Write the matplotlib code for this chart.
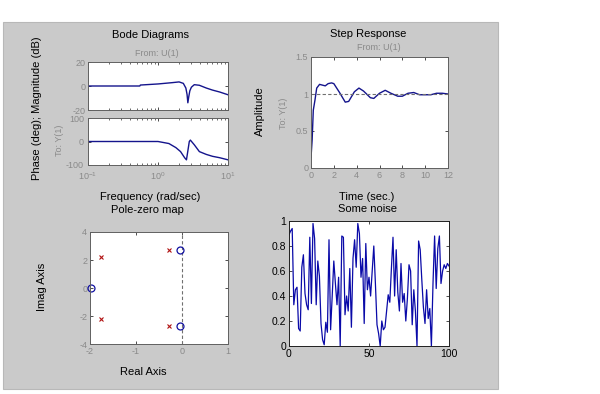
import numpy as np
import matplotlib
matplotlib.use('Agg')
import matplotlib.pyplot as plt
import matplotlib.ticker as ticker
from matplotlib.patches import Rectangle

plt.rcParams['font.family'] = ['Liberation Sans', 'DejaVu Sans']
plt.rcParams['axes.unicode_minus'] = False

# bode data
freq = [0.1, 0.3, 0.55, 0.56, 1.0, 1.6, 2.0, 2.3, 2.5, 2.6, 2.67, 2.75, 2.85, 3.0, 3.3, 3.9, 4.9, 6.0, 7.6, 10.0]
mag_db = [0, 0, 0, 0.8, 1.7, 2.8, 3.4, 2.2, -1.7, -7, -14, -9, -4, -1, 1.1, 0.6, -1.7, -3.4, -5, -7.3]
phase_freq = [0.1, 0.5, 1.0, 1.43, 1.8, 2.1, 2.4, 2.55, 2.67, 2.8, 2.9, 3.3, 3.9, 4.9, 6.0, 7.6, 10.0]
phase_deg = [0, 0, 0, -8.6, -26, -43, -69, -78, -40, 0, 6, -14, -43, -55, -63, -69, -78]

# step response
step_t = [0, 0.1, 0.2, 0.35, 0.5, 0.75, 1.0, 1.25, 1.5, 1.8, 2.0, 2.5, 3.0, 3.3, 3.8, 4.2, 4.6,
          5.2, 5.5, 6.0, 6.5, 7.0, 7.6, 8.0, 8.5, 9.0, 9.5, 10.0, 10.5, 11.0, 11.5, 12.0]
step_y = [0.14, 0.38, 0.78, 0.92, 1.08, 1.13, 1.12, 1.11, 1.14, 1.15, 1.14, 1.02, 0.89, 0.90, 1.03,
          1.08, 1.04, 0.95, 0.94, 1.01, 1.05, 1.01, 0.97, 0.97, 1.01, 1.02, 0.99, 0.99, 0.99, 1.01, 1.01, 1.00]

# pole-zero map
zeros_re = [-1.98, -0.05, -0.05]
zeros_im = [0.0, 2.7, -2.7]
poles_re = [-1.77, -1.77, -0.28, -0.28]
poles_im = [2.2, -2.2, 2.75, -2.7]

# noise
noise = [0.89, 0.92, 0.94, 0.33, 0.45, 0.47, 0.14, 0.12, 0.63, 0.73, 0.42, 0.33, 0.29, 0.87, 0.34,
         0.98, 0.86, 0.33, 0.68, 0.56, 0.18, 0.05, 0.01, 0.19, 0.11, 0.85, 0.13, 0.40, 0.68, 0.50,
         0.33, 0.55, 0.00, 0.88, 0.87, 0.25, 0.40, 0.28, 0.62, 0.15, 0.70, 0.85, 0.63, 0.98, 0.90,
         0.55, 0.70, 0.18, 0.82, 0.45, 0.55, 0.40, 0.60, 0.80, 0.50, 0.17, 0.10, 0.00, 0.20, 0.13,
         0.15, 0.28, 0.41, 0.35, 0.62, 0.87, 0.40, 0.77, 0.43, 0.28, 0.66, 0.35, 0.42, 0.20, 0.38,
         0.65, 0.60, 0.17, 0.45, 0.28, 0.00, 0.84, 0.77, 0.53, 0.31, 0.18, 0.45, 0.22, 0.30, 0.00,
         0.50, 0.88, 0.46, 0.78, 0.88, 0.50, 0.60, 0.65, 0.62, 0.66, 0.64]

W, H = 600, 394
fig = plt.figure(figsize=(6, 3.94), dpi=100)
fig.patch.set_facecolor('white')
fig.patches.append(Rectangle((3 / W, 1 - 389 / H), 495 / W, 367 / H, transform=fig.transFigure,
                             facecolor='#cacaca', edgecolor='#b8b8b8', lw=0.8, zorder=-10))

def px_axes(x0, y0, x1, y1):
    return fig.add_axes([x0 / W, 1 - y1 / H, (x1 - x0) / W, (y1 - y0) / H])

def px_text(x, y, s, color='black', size=8, rot=0):
    fig.text(x / W, 1 - y / H, s, color=color, fontsize=size, rotation=rot, ha='center', va='center')

GRAY = '#8a8a8a'
LINE = '#14148c'

def style(ax, tickcol=GRAY, spinecol='#606060'):
    ax.set_facecolor('white')
    ax.tick_params(direction='in', length=2.5, width=0.6, top=True, right=True,
                   labelsize=6.5, labelcolor=tickcol, color='#303030', pad=2)
    ax.tick_params(which='minor', direction='in', length=1.5, width=0.5, top=True, right=True, color='#303030')
    for s in ax.spines.values():
        s.set_color(spinecol)
        s.set_linewidth(0.7)

# bode magnitude
ax1 = px_axes(88, 62, 228, 110)
ax1.semilogx(freq, mag_db, color=LINE, lw=1)
ax1.set_xlim(0.1, 10)
ax1.set_ylim(-20, 20)
ax1.set_yticks([-20, 0, 20])
ax1.xaxis.set_major_formatter(ticker.NullFormatter())
ax1.xaxis.set_minor_formatter(ticker.NullFormatter())
style(ax1)

# bode phase
ax2 = px_axes(88, 118, 228, 165)
ax2.semilogx(phase_freq, phase_deg, color=LINE, lw=1)
ax2.set_xlim(0.1, 10)
ax2.set_ylim(-100, 100)
ax2.set_yticks([-100, 0, 100])
ax2.xaxis.set_minor_formatter(ticker.NullFormatter())
style(ax2)
ax2.tick_params(axis='x', pad=4)
ax2.tick_params(axis='y', pad=3)

px_text(150, 35, 'Bode Diagrams')
px_text(157, 53, 'From: U(1)', color=GRAY, size=6.5)
px_text(37, 108, 'Phase (deg); Magnitude (dB)', rot=90)
px_text(59, 140, 'To: Y(1)', color=GRAY, size=6.5, rot=90)
px_text(150, 197, 'Frequency (rad/sec)')

# step response
ax3 = px_axes(311, 57, 448, 168)
ax3.plot(step_t, step_y, color=LINE, lw=1)
ax3.axhline(1.0, color='#707070', ls='--', lw=0.8, dashes=(3, 2))
ax3.set_xlim(0, 12)
ax3.set_ylim(0, 1.5)
ax3.set_xticks(range(0, 13, 2))
ax3.set_yticks([0, 0.5, 1, 1.5])
ax3.yaxis.set_major_formatter(ticker.FuncFormatter(lambda v, p: '%g' % v))
style(ax3)

px_text(368, 34, 'Step Response')
px_text(379, 48, 'From: U(1)', color=GRAY, size=6.5)
px_text(260, 111, 'Amplitude', rot=90)
px_text(283, 113, 'To: Y(1)', color=GRAY, size=6.5, rot=90)
px_text(367, 197, 'Time (sec.)')

# pole-zero map
ax4 = px_axes(90, 232, 228, 344)
ax4.axvline(0, color='#707070', ls='--', lw=0.8, dashes=(3, 2))
ax4.plot(zeros_re, zeros_im, 'o', mfc='none', mec='#1010a0', ms=5, mew=0.9, clip_on=False)
ax4.plot(poles_re, poles_im, 'x', color='#b01010', ms=3, mew=0.8)
ax4.set_xlim(-2, 1)
ax4.set_ylim(-4, 4)
ax4.set_xticks([-2, -1, 0, 1])
ax4.set_yticks([-4, -2, 0, 2, 4])
style(ax4)

px_text(147, 210, 'Pole-zero map')
px_text(42, 287, 'Imag Axis', rot=90)
px_text(143, 372, 'Real Axis')

# noise
ax5 = px_axes(289, 221, 449, 346)
ax5.plot(range(len(noise)), noise, color='#0a0aa8', lw=0.9)
ax5.set_xlim(0, 100)
ax5.set_ylim(0, 1)
ax5.set_xticks([0, 50, 100])
ax5.set_yticks(np.arange(0, 1.01, 0.2))
ax5.yaxis.set_major_formatter(ticker.FuncFormatter(lambda v, p: '%g' % round(v, 1)))
style(ax5, tickcol='black', spinecol='#202020')
ax5.tick_params(labelsize=7.5)

px_text(368, 209, 'Some noise')

fig.savefig('out.png', dpi=100)
